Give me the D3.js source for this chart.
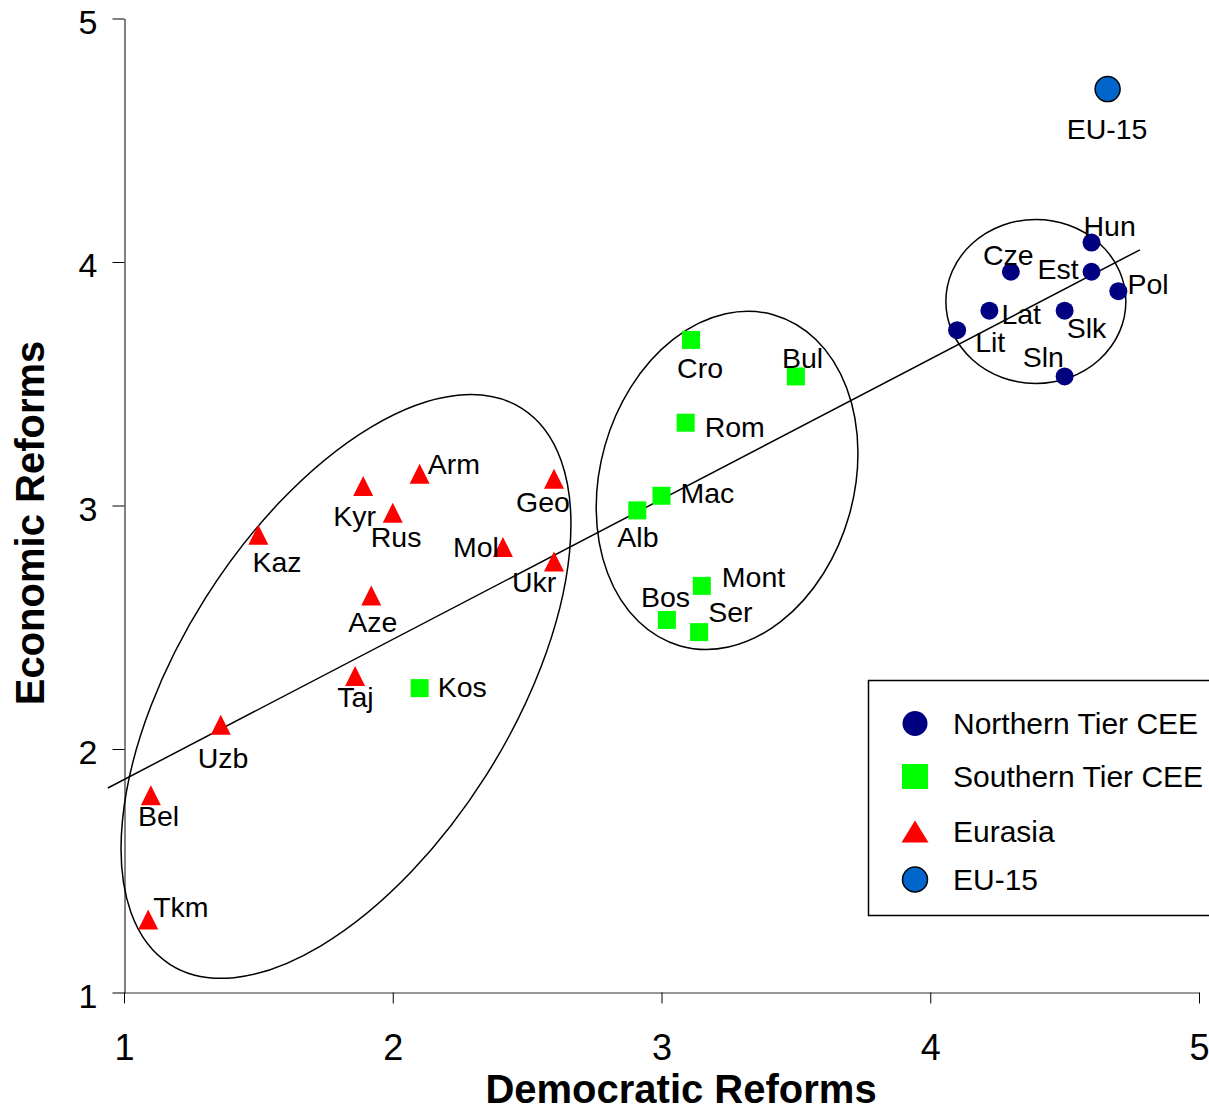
<!DOCTYPE html>
<html>
<head>
<meta charset="utf-8">
<script src="https://cdn.jsdelivr.net/npm/d3@7"></script>
<style>
  body { margin: 0; background: #fff; }
  text { font-family: "Liberation Sans", Arial, sans-serif; fill: #000; }
</style>
</head>
<body>
<div id="chart"></div>
<script>
// Datos: reformas democráticas (x) vs económicas (y)
const northernTier = [
  { name: 'Hun', dem: 4.60, econ: 4.08 },
  { name: 'Cze', dem: 4.30, econ: 3.96 },
  { name: 'Est', dem: 4.60, econ: 3.96 },
  { name: 'Pol', dem: 4.70, econ: 3.88 },
  { name: 'Lat', dem: 4.22, econ: 3.80 },
  { name: 'Slk', dem: 4.50, econ: 3.80 },
  { name: 'Lit', dem: 4.10, econ: 3.72 },
  { name: 'Sln', dem: 4.50, econ: 3.53 }
];

const southernTier = [
  { name: 'Cro', dem: 3.11, econ: 3.68 },
  { name: 'Bul', dem: 3.50, econ: 3.53 },
  { name: 'Rom', dem: 3.09, econ: 3.34 },
  { name: 'Mac', dem: 3.00, econ: 3.04 },
  { name: 'Alb', dem: 2.91, econ: 2.98 },
  { name: 'Mont', dem: 3.15, econ: 2.67 },
  { name: 'Bos', dem: 3.02, econ: 2.53 },
  { name: 'Ser', dem: 3.14, econ: 2.48 },
  { name: 'Kos', dem: 2.10, econ: 2.25 }
];

const eurasia = [
  { name: 'Arm', dem: 2.10, econ: 3.13 },
  { name: 'Kyr', dem: 1.89, econ: 3.08 },
  { name: 'Rus', dem: 2.00, econ: 2.97 },
  { name: 'Geo', dem: 2.60, econ: 3.11 },
  { name: 'Kaz', dem: 1.50, econ: 2.88 },
  { name: 'Mol', dem: 2.41, econ: 2.83 },
  { name: 'Ukr', dem: 2.60, econ: 2.77 },
  { name: 'Aze', dem: 1.92, econ: 2.63 },
  { name: 'Taj', dem: 1.86, econ: 2.30 },
  { name: 'Uzb', dem: 1.36, econ: 2.10 },
  { name: 'Bel', dem: 1.10, econ: 1.81 },
  { name: 'Tkm', dem: 1.09, econ: 1.30 }
];

const eu15 = [
  { name: 'EU-15', dem: 4.66, econ: 4.71 }
];

const legendNames = ['Northern Tier CEE', 'Southern Tier CEE', 'Eurasia', 'EU-15'];
const xTicks = [1, 2, 3, 4, 5];
const yTicks = [1, 2, 3, 4, 5];

// Línea de tendencia (extremos)
const trendLine = [
  { dem: 0.94, econ: 1.84 },
  { dem: 4.78, econ: 4.05 }
];

// Elipses que agrupan regiones (centro en datos)
const groupEllipses = [
  { dem: 1.826, econ: 2.257, rx: 329, ry: 166, angle: -57.7 },
  { dem: 3.244, econ: 3.103, rx: 172, ry: 127, angle: -74.2 },
  { dem: 4.393, econ: 3.838, rx: 90, ry: 82, angle: 0 }
];

// Desplazamiento de etiquetas (px, izquierda / línea base)
const labelOffsets = {
  'Hun': [-8, -7], 'Cze': [-28, -7], 'Est': [-54, 7], 'Pol': [9, 3],
  'Lat': [12, 13], 'Slk': [2, 27], 'Lit': [18, 22], 'Sln': [-42, -9],
  'Cro': [-14, 38], 'Bul': [-14, -8], 'Rom': [19, 14], 'Mac': [19, 7],
  'Alb': [-20, 37], 'Mont': [20, 1], 'Bos': [-26, -13], 'Ser': [9, -10],
  'Kos': [18, 9],
  'Arm': [8, 0], 'Kyr': [-30, 40], 'Rus': [-22, 34], 'Geo': [-38, 33],
  'Kaz': [-6, 37], 'Mol': [-50, 10], 'Ukr': [-42, 30], 'Aze': [-23, 36],
  'Taj': [-18, 31], 'Uzb': [-23, 43], 'Bel': [-13, 31], 'Tkm': [5, -2],
  'EU-15': [-41, 50]
};

const width = 1209;
const height = 1110;

const svg = d3.select('#chart')
  .append('svg')
  .attr('width', width)
  .attr('height', height)
  .style('background', '#fff');

const x = d3.scaleLinear().domain([1, 5]).range([124, 1199]);
const y = d3.scaleLinear().domain([1, 5]).range([992.5, 18.5]);

// Ejes
const xAxis = svg.append('g')
  .attr('transform', 'translate(0,992.5)')
  .call(d3.axisBottom(x).tickValues(xTicks).tickFormat(d3.format('d'))
    .tickSizeInner(11).tickSizeOuter(0).tickPadding(31));
xAxis.select('.domain').attr('stroke', '#777').attr('stroke-width', 1.5);
xAxis.selectAll('.tick line').attr('stroke', '#000');
xAxis.selectAll('.tick text')
  .style('font-size', '36px')
  .style('font-family', '"Liberation Sans", Arial, sans-serif');

const yAxis = svg.append('g')
  .attr('transform', 'translate(124.5,0)')
  .call(d3.axisLeft(y).tickValues(yTicks).tickFormat(d3.format('d'))
    .tickSizeInner(12).tickSizeOuter(0).tickPadding(15));
yAxis.select('.domain').attr('stroke', '#000');
yAxis.selectAll('.tick line').attr('stroke', '#000');
yAxis.selectAll('.tick text')
  .attr('dy', '0.44em')
  .style('font-size', '34px')
  .style('font-family', '"Liberation Sans", Arial, sans-serif');

// Títulos de ejes
svg.append('text')
  .attr('x', 681)
  .attr('y', 1103)
  .attr('text-anchor', 'middle')
  .style('font-size', '40px')
  .style('font-weight', 'bold')
  .text('Democratic Reforms');

svg.append('text')
  .attr('transform', 'translate(44,523) rotate(-90)')
  .attr('text-anchor', 'middle')
  .style('font-size', '40px')
  .style('font-weight', 'bold')
  .text('Economic Reforms');

// Elipses
svg.append('g')
  .selectAll('ellipse')
  .data(groupEllipses)
  .enter()
  .append('ellipse')
  .attr('transform', d => `translate(${x(d.dem)},${y(d.econ)}) rotate(${d.angle})`)
  .attr('rx', d => d.rx)
  .attr('ry', d => d.ry)
  .attr('fill', 'none')
  .attr('stroke', '#000')
  .attr('stroke-width', 1.5);

// Línea de tendencia
svg.append('path')
  .datum(trendLine)
  .attr('fill', 'none')
  .attr('stroke', '#000')
  .attr('stroke-width', 1.5)
  .attr('d', d3.line().x(d => x(d.dem)).y(d => y(d.econ)));

// Marcadores
const trianglePath = s => `M0,${-s}L${s},${s}L${-s},${s}Z`;

svg.append('g')
  .selectAll('rect')
  .data(southernTier)
  .enter()
  .append('rect')
  .attr('x', d => x(d.dem) - 9)
  .attr('y', d => y(d.econ) - 9)
  .attr('width', 18)
  .attr('height', 18)
  .attr('fill', '#00ff00');

svg.append('g')
  .selectAll('path')
  .data(eurasia)
  .enter()
  .append('path')
  .attr('transform', d => `translate(${x(d.dem)},${y(d.econ)})`)
  .attr('d', trianglePath(10))
  .attr('fill', '#ff0000');

svg.append('g')
  .selectAll('circle')
  .data(northernTier)
  .enter()
  .append('circle')
  .attr('cx', d => x(d.dem))
  .attr('cy', d => y(d.econ))
  .attr('r', 9)
  .attr('fill', '#000080');

svg.append('g')
  .selectAll('circle')
  .data(eu15)
  .enter()
  .append('circle')
  .attr('cx', d => x(d.dem))
  .attr('cy', d => y(d.econ))
  .attr('r', 12.5)
  .attr('fill', '#0066cc')
  .attr('stroke', '#000')
  .attr('stroke-width', 1.5);

// Etiquetas de los países
const allPoints = [].concat(northernTier, southernTier, eurasia, eu15);
svg.append('g')
  .selectAll('text')
  .data(allPoints)
  .enter()
  .append('text')
  .attr('x', d => x(d.dem) + labelOffsets[d.name][0])
  .attr('y', d => y(d.econ) + labelOffsets[d.name][1])
  .style('font-size', '28.5px')
  .text(d => d.name);

// Leyenda
const legend = svg.append('g').attr('transform', 'translate(868.5,680.5)');
legend.append('rect')
  .attr('width', 360)
  .attr('height', 235)
  .attr('fill', '#fff')
  .attr('stroke', '#000')
  .attr('stroke-width', 1.5);

const rowY = [43, 96, 151, 199];
const items = legend.selectAll('g.item')
  .data(legendNames)
  .enter()
  .append('g')
  .attr('class', 'item')
  .attr('transform', (d, i) => `translate(46.5,${rowY[i]})`);

items.each(function(d, i) {
  const g = d3.select(this);
  if (i === 0) {
    g.append('circle').attr('r', 12.5).attr('fill', '#000080');
  } else if (i === 1) {
    g.append('rect').attr('x', -13).attr('y', -12.5).attr('width', 26).attr('height', 25).attr('fill', '#00ff00');
  } else if (i === 2) {
    g.append('path').attr('d', 'M0,-11L13.5,11L-13.5,11Z').attr('fill', '#ff0000');
  } else {
    g.append('circle').attr('r', 12.5).attr('fill', '#0066cc').attr('stroke', '#000').attr('stroke-width', 1.5);
  }
});

items.append('text')
  .attr('x', 38)
  .attr('y', 10.5)
  .style('font-size', '30px')
  .text(d => d);
</script>
</body>
</html>
